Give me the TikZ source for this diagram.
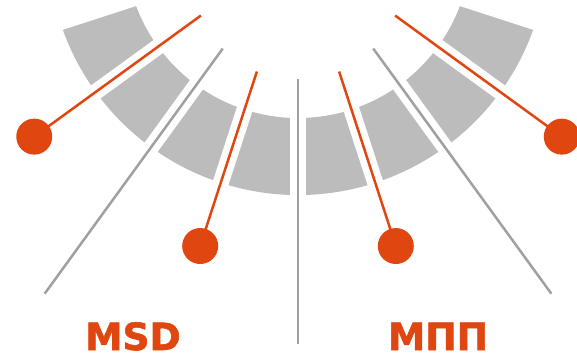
\documentclass[tikz,border=0pt]{standalone}
\usepackage{fontspec}
\newfontfamily\labelfont{DejaVu Sans Bold}[FakeBold=1.6]
\usepackage{tikz}

\definecolor{sectorgray}{RGB}{188,188,188}
\definecolor{linegray}{RGB}{160,160,160}
\definecolor{signalred}{RGB}{224,70,16}

\tikzset{
	gap/.style = {white, line width = 16pt},
	divider/.style = {linegray, line width = 2.5pt},
	pointer/.style = {signalred, line width = 2.5pt},
	ball/.style = {circle, fill = signalred, minimum size = 36pt, inner sep = 0pt},
	tag/.style = {signalred, anchor = base, font = \labelfont\fontsize{37.5}{40}\selectfont}
}

\begin{document}
\begin{tikzpicture}[x = 1pt, y = 1pt]
					\def\rIn{173};
					\def\rOut{250};
					\def\gIn{160};
					\def\gOut{265};

					\useasboundingbox (-298,-415) rectangle (279,-55);

					% scale segments
					\fill [sectorgray] (-162:\rIn) arc [start angle = -162, end angle = -18, radius = \rIn]
						-- (-18:\rOut) arc [start angle = -18, end angle = -162, radius = \rOut] -- cycle;

					\begin{scope}[gap]
						\draw (-162:\gIn) -- (-162:\gOut);
						\draw (-144:\gIn) -- (-144:\gOut);
						\draw (-126:\gIn) -- (-126:\gOut);
						\draw (-108:\gIn) -- (-108:\gOut);
						\draw (-90:\gIn) -- (-90:\gOut);
						\draw (-72:\gIn) -- (-72:\gOut);
						\draw (-54:\gIn) -- (-54:\gOut);
						\draw (-36:\gIn) -- (-36:\gOut);
						\draw (-18:\gIn) -- (-18:\gOut);
					\end{scope}

					% dividers
					\coordinate (midTop) at (-90:134);
					\coordinate (midBot) at (-90:399);
					\coordinate (leftTop) at (-126:128);
					\coordinate (leftBot) at (-126:431);
					\coordinate (rightTop) at (-54:128);
					\coordinate (rightBot) at (-54:431);

					\begin{scope}[divider]
						\draw (midTop) -- (midBot);
						\draw (leftTop) -- (leftBot);
						\draw (rightTop) -- (rightBot);
					\end{scope}

					% pointers
					\coordinate (outerLTop) at (-144:120);
					\coordinate (innerLTop) at (-108:133);
					\coordinate (innerRTop) at (-72:133);
					\coordinate (outerRTop) at (-36:120);

					\node [ball] (outerL) at (-144:326) {};
					\node [ball] (innerL) at (-108:316.5) {};
					\node [ball] (innerR) at (-72:316.5) {};
					\node [ball] (outerR) at (-36:326) {};

					\begin{scope}[pointer]
						\draw (outerLTop) -- (outerL.center);
						\draw (innerLTop) -- (innerL.center);
						\draw (innerRTop) -- (innerR.center);
						\draw (outerRTop) -- (outerR.center);
					\end{scope}

					\node [tag] (msd) at (-165,-405) {MSD};
					\node [tag] (mpp) at (140,-405) {МПП};
				\end{tikzpicture}
\end{document}
